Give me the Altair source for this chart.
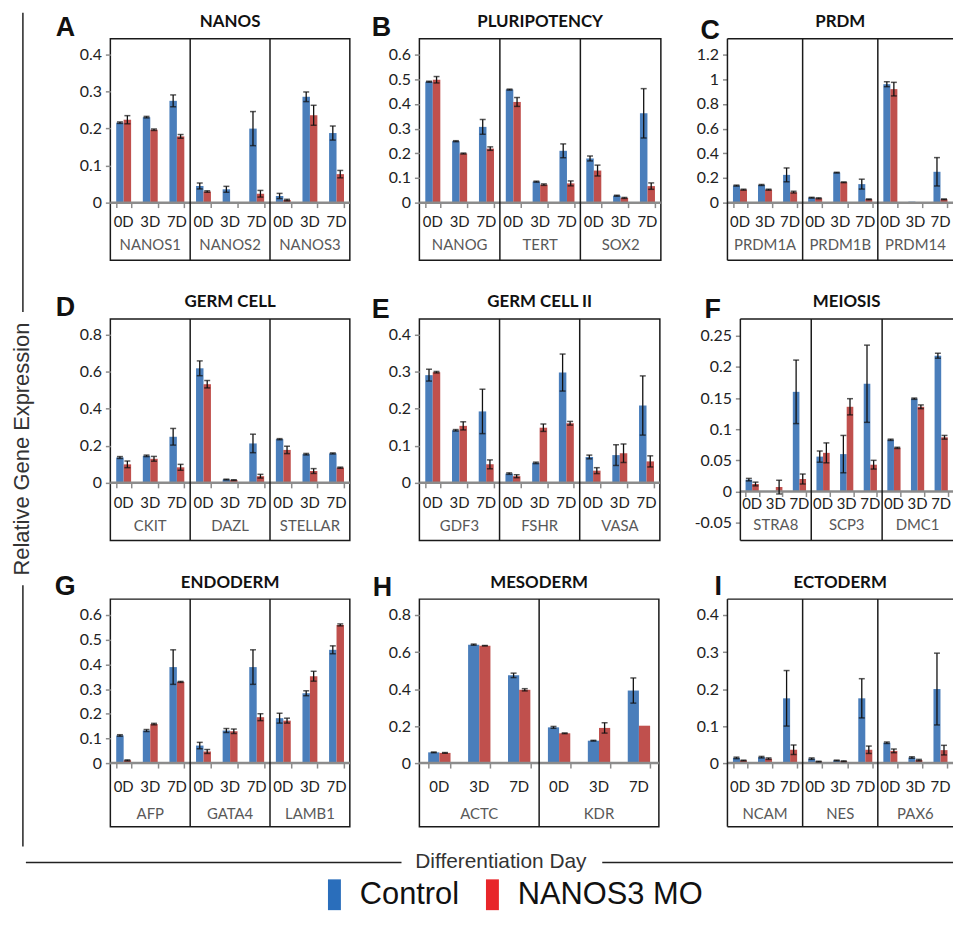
import altair as alt
import pandas as pd

SERIES = ["Control", "NANOS3 MO"]
DAYS = ["0D", "3D", "7D"]
BAR_COLORS = ["#4a7ebb", "#c0504d"]
LEGEND_COLORS = ["#2a6ebb", "#e8262a"]

# ---- Panel A: NANOS ----
A_GENES = ["NANOS1", "NANOS2", "NANOS3"]
A_TICKS = [0, 0.1, 0.2, 0.3, 0.4]
A_CONTROL = [0.216, 0.231, 0.275, 0.045, 0.036, 0.200, 0.018, 0.286, 0.188]
A_CONTROL_ERR = [0.002, 0.002, 0.016, 0.008, 0.008, 0.046, 0.007, 0.013, 0.019]
A_MO = [0.224, 0.197, 0.179, 0.030, 0.0, 0.024, 0.007, 0.236, 0.077]
A_MO_ERR = [0.011, 0.002, 0.005, 0.002, 0.0, 0.009, 0.002, 0.027, 0.010]

# ---- Panel B: PLURIPOTENCY ----
B_GENES = ["NANOG", "TERT", "SOX2"]
B_TICKS = [0, 0.1, 0.2, 0.3, 0.4, 0.5, 0.6]
B_CONTROL = [0.490, 0.249, 0.307, 0.458, 0.085, 0.210, 0.179, 0.028, 0.362]
B_CONTROL_ERR = [0.002, 0.002, 0.030, 0.002, 0.002, 0.028, 0.010, 0.002, 0.100]
B_MO = [0.498, 0.199, 0.219, 0.408, 0.073, 0.078, 0.130, 0.019, 0.067]
B_MO_ERR = [0.013, 0.002, 0.007, 0.018, 0.003, 0.010, 0.022, 0.002, 0.013]

# ---- Panel C: PRDM ----
C_GENES = ["PRDM1A", "PRDM1B", "PRDM14"]
C_TICKS = [0, 0.2, 0.4, 0.6, 0.8, 1, 1.2]
C_CONTROL = [0.138, 0.143, 0.225, 0.040, 0.243, 0.150, 0.960, 0.008, 0.250]
C_CONTROL_ERR = [0.004, 0.004, 0.056, 0.003, 0.003, 0.040, 0.020, 0.0, 0.115]
C_MO = [0.105, 0.105, 0.085, 0.035, 0.165, 0.027, 0.920, 0.0, 0.027]
C_MO_ERR = [0.004, 0.004, 0.007, 0.004, 0.003, 0.003, 0.055, 0.0, 0.003]

# ---- Panel D: GERM CELL ----
D_GENES = ["CKIT", "DAZL", "STELLAR"]
D_TICKS = [0, 0.2, 0.4, 0.6, 0.8]
D_CONTROL = [0.137, 0.146, 0.249, 0.619, 0.018, 0.213, 0.236, 0.155, 0.159]
D_CONTROL_ERR = [0.005, 0.004, 0.045, 0.040, 0.002, 0.050, 0.003, 0.004, 0.003]
D_MO = [0.100, 0.130, 0.084, 0.533, 0.015, 0.036, 0.178, 0.064, 0.082]
D_MO_ERR = [0.018, 0.013, 0.016, 0.020, 0.002, 0.010, 0.020, 0.013, 0.003]

# ---- Panel E: GERM CELL II ----
E_GENES = ["GDF3", "FSHR", "VASA"]
E_TICKS = [0, 0.1, 0.2, 0.3, 0.4]
E_CONTROL = [0.291, 0.142, 0.193, 0.025, 0.054, 0.298, 0.070, 0.075, 0.209]
E_CONTROL_ERR = [0.016, 0.002, 0.060, 0.002, 0.002, 0.050, 0.005, 0.028, 0.080]
E_MO = [0.299, 0.154, 0.050, 0.018, 0.149, 0.161, 0.033, 0.080, 0.058]
E_MO_ERR = [0.002, 0.011, 0.012, 0.004, 0.010, 0.005, 0.008, 0.025, 0.015]

# ---- Panel F: MEIOSIS ----
F_GENES = ["STRA8", "SCP3", "DMC1"]
F_TICKS = [-0.05, 0, 0.05, 0.1, 0.15, 0.2, 0.25]
F_CONTROL = [0.019, 0.0, 0.160, 0.056, 0.060, 0.173, 0.083, 0.149, 0.218]
F_CONTROL_ERR = [0.002, 0.0, 0.051, 0.009, 0.030, 0.062, 0.001, 0.001, 0.004]
F_MO = [0.012, 0.007, 0.020, 0.062, 0.136, 0.043, 0.070, 0.136, 0.087]
F_MO_ERR = [0.003, 0.011, 0.008, 0.016, 0.013, 0.007, 0.001, 0.003, 0.003]

# ---- Panel G: ENDODERM ----
G_GENES = ["AFP", "GATA4", "LAMB1"]
G_TICKS = [0, 0.1, 0.2, 0.3, 0.4, 0.5, 0.6]
G_CONTROL = [0.112, 0.132, 0.389, 0.071, 0.132, 0.389, 0.182, 0.283, 0.459]
G_CONTROL_ERR = [0.003, 0.004, 0.070, 0.013, 0.008, 0.070, 0.020, 0.010, 0.016]
G_MO = [0.011, 0.158, 0.329, 0.047, 0.129, 0.186, 0.172, 0.352, 0.560]
G_MO_ERR = [0.002, 0.003, 0.002, 0.008, 0.009, 0.014, 0.010, 0.020, 0.004]

# ---- Panel H: MESODERM ----
H_GENES = ["ACTC", "KDR"]
H_TICKS = [0, 0.2, 0.4, 0.6, 0.8]
H_CONTROL = [0.058, 0.640, 0.474, 0.193, 0.121, 0.392]
H_CONTROL_ERR = [0.002, 0.003, 0.012, 0.005, 0.002, 0.068]
H_MO = [0.055, 0.634, 0.396, 0.161, 0.190, 0.202]
H_MO_ERR = [0.002, 0.002, 0.006, 0.002, 0.028, 0.0]

# ---- Panel I: ECTODERM ----
I_GENES = ["NCAM", "NES", "PAX6"]
I_TICKS = [0, 0.1, 0.2, 0.3, 0.4]
I_CONTROL = [0.014, 0.016, 0.175, 0.012, 0.007, 0.175, 0.055, 0.015, 0.200]
I_CONTROL_ERR = [0.002, 0.002, 0.075, 0.002, 0.001, 0.053, 0.002, 0.002, 0.097]
I_MO = [0.007, 0.012, 0.036, 0.004, 0.005, 0.036, 0.033, 0.008, 0.035]
I_MO_ERR = [0.001, 0.002, 0.013, 0.001, 0.001, 0.010, 0.005, 0.002, 0.013]

Y_TITLE = "Relative Gene Expression"
X_TITLE = "Differentiation Day"

FONT = "Lato"
SANS = "Liberation Sans"
FRAME = "#1a1a1a"
PI = 0.44  # band inner padding

# layout geometry (pixels)
ROW12 = dict(H=223, top_px=16, bot_px=165, day_y=185, name_y=208, title_y=-12)
ROW3 = dict(H=229, top_px=16, bot_px=165, day_y=189, name_y=216, title_y=-11)
GEOM_F = dict(H=223, top_px=17, bot_px=205, day_y=186, name_y=207, title_y=-12)

one = pd.DataFrame({"k": [0]})


def build_df(genes, ctrl, ctrl_err, mo, mo_err):
    rows = []
    for gi, g in enumerate(genes):
        for di, d in enumerate(DAYS):
            k = gi * 3 + di
            for s, v, e in ((SERIES[0], ctrl[k], ctrl_err[k]), (SERIES[1], mo[k], mo_err[k])):
                rows.append(dict(key=g + "|" + d, gene=g, day=d, series=s, value=v, err=e, lo=v - e, hi=v + e))
    return pd.DataFrame(rows)


def panel(letter, title, genes, ctrl, ctrl_err, mo, mo_err, ticks, geom, gene_w, letter_pos,
          open_right=False, shift=0):
    H = geom["H"]
    n = len(genes)
    full_w = gene_w * n
    vw = shift + full_w
    step = full_w / (3 * n)
    keys = [g + "|" + d for g in genes for d in DAYS]
    df = build_df(genes, ctrl, ctrl_err, mo, mo_err)
    edf = df[df.err > 0]

    tmin, tmax = ticks[0], ticks[-1]
    ppu = (geom["bot_px"] - geom["top_px"]) / (tmax - tmin)
    dom = [tmin - (H - geom["bot_px"]) / ppu, tmax + geom["top_px"] / ppu]
    zero_px = geom["top_px"] + tmax * ppu

    xscale = alt.Scale(domain=keys, paddingInner=PI, paddingOuter=PI / 2, range=[shift, shift + full_w])
    yscale = alt.Scale(domain=dom, nice=False, zero=False)
    xoff = alt.XOffset("series:N", scale=alt.Scale(domain=SERIES, paddingInner=0, paddingOuter=0))

    xaxis = alt.Axis(labels=False, domain=False, ticks=True, tickBand="extent", tickSize=5,
                     tickColor="#8c8c8c", tickWidth=1.5, offset=-(H - zero_px), title=None, grid=False)
    yaxis = alt.Axis(values=ticks, labelExpr="datum.value + ''", domain=False, grid=False, tickSize=5,
                     tickColor="#8c8c8c", tickWidth=1.5, labelFont=FONT, labelFontSize=16,
                     labelColor="#222222", labelPadding=4, title=None, offset=-shift)

    def X(**kw):
        return alt.X("key:N", scale=xscale, axis=xaxis, title=None, **kw)

    def Y(field):
        return alt.Y(field, scale=yscale, axis=yaxis, title=None)

    bars = alt.Chart(df).mark_bar().encode(
        x=X(), xOffset=xoff, y=Y("value:Q"), y2=alt.datum(0),
        color=alt.Color("series:N", scale=alt.Scale(domain=SERIES, range=BAR_COLORS), legend=None),
    )
    zero = alt.Chart(one).transform_calculate(z="0").mark_rule(color="#8c8c8c", strokeWidth=2.5).encode(
        y=Y("z:Q"), x=alt.value(shift), x2=alt.value(vw)
    )
    err_rule = alt.Chart(edf).mark_rule(color="#111111", strokeWidth=1.3).encode(
        x=X(), xOffset=xoff, y=Y("lo:Q"), y2="hi:Q")
    cap_hi = alt.Chart(edf).mark_tick(color="#111111", thickness=1.5, size=6, orient="horizontal").encode(
        x=X(), xOffset=xoff, y=Y("hi:Q"))
    cap_lo = alt.Chart(edf).mark_tick(color="#111111", thickness=1.5, size=6, orient="horizontal").encode(
        x=X(), xOffset=xoff, y=Y("lo:Q"))

    day_df = pd.DataFrame({"key": keys, "day": DAYS * n})
    day_text = alt.Chart(day_df).mark_text(
        font=FONT, fontSize=15, color="#222222", baseline="middle"
    ).encode(x=X(), y=alt.value(geom["day_y"]), text="day:N")
    gene_df = pd.DataFrame({"key": [g + "|" + DAYS[1] for g in genes], "gene": genes})
    name_text = alt.Chart(gene_df).mark_text(
        font=FONT, fontSize=15, color="#595959", baseline="middle"
    ).encode(x=X(), y=alt.value(geom["name_y"]), text="gene:N")
    sep_df = pd.DataFrame({"key": [g + "|" + DAYS[0] for g in genes[1:]]})
    seps = alt.Chart(sep_df).mark_rule(color=FRAME, strokeWidth=1.5, xOffset=-step * PI / 2).encode(
        x=X(bandPosition=0), y=alt.value(0), y2=alt.value(H))

    layers = [bars, zero, err_rule, cap_hi, cap_lo, day_text, name_text, seps]
    if open_right:
        layers.append(alt.Chart(one).mark_rule(color=FRAME, strokeWidth=1.5).encode(
            x=alt.value(shift), y=alt.value(0), y2=alt.value(H)))
        layers.append(alt.Chart(one).mark_rule(color=FRAME, strokeWidth=1.5).encode(
            x=alt.value(shift), x2=alt.value(vw), y=alt.value(0)))
        layers.append(alt.Chart(one).mark_rule(color=FRAME, strokeWidth=1.5).encode(
            x=alt.value(shift), x2=alt.value(vw), y=alt.value(H)))
    layers.append(alt.Chart(pd.DataFrame({"letter": [letter]})).mark_text(
        font=SANS, fontSize=27, fontWeight="bold", color="#111111", align="left", baseline="alphabetic"
    ).encode(x=alt.value(shift + letter_pos[0]), y=alt.value(letter_pos[1]), text="letter:N"))
    layers.append(alt.Chart(pd.DataFrame({"title": [title]})).mark_text(
        font=FONT, fontSize=17, fontWeight="bold", color="#111111", align="center", baseline="alphabetic"
    ).encode(x=alt.value(shift + full_w / 2), y=alt.value(geom["title_y"]), text="title:N"))

    props = dict(width=vw, height=H)
    if open_right:
        props["view"] = alt.ViewBackground(stroke="transparent")
    return alt.layer(*layers).properties(**props)


def spacer(w, h):
    return alt.Chart(one).mark_point(opacity=0, size=1).encode(x=alt.value(w / 2), y=alt.value(h / 2)).properties(
        width=w, height=h, view=alt.ViewBackground(stroke="transparent"))


pA = panel("A", "NANOS", A_GENES, A_CONTROL, A_CONTROL_ERR, A_MO, A_MO_ERR, A_TICKS, ROW12, 241 / 3, (-55, -3))
pB = panel("B", "PLURIPOTENCY", B_GENES, B_CONTROL, B_CONTROL_ERR, B_MO, B_MO_ERR, B_TICKS, ROW12, 81, (-48, -3))
pC = panel("C", "PRDM", C_GENES, C_CONTROL, C_CONTROL_ERR, C_MO, C_MO_ERR, C_TICKS, ROW12, 227 / 3, (-27, 0),
           open_right=True)
pD = panel("D", "GERM CELL", D_GENES, D_CONTROL, D_CONTROL_ERR, D_MO, D_MO_ERR, D_TICKS, ROW12, 241 / 3, (-55, -3))
pE = panel("E", "GERM CELL II", E_GENES, E_CONTROL, E_CONTROL_ERR, E_MO, E_MO_ERR, E_TICKS, ROW12, 242 / 3, (-48, -1))
pF = panel("F", "MEIOSIS", F_GENES, F_CONTROL, F_CONTROL_ERR, F_MO, F_MO_ERR, F_TICKS, GEOM_F, 214 / 3, (-36, -1),
           open_right=True, shift=13)
pG = panel("G", "ENDODERM", G_GENES, G_CONTROL, G_CONTROL_ERR, G_MO, G_MO_ERR, G_TICKS, ROW3, 241 / 3, (-56, -4))
pH = panel("H", "MESODERM", H_GENES, H_CONTROL, H_CONTROL_ERR, H_MO, H_MO_ERR, H_TICKS, ROW3, 120.5, (-47, -3))
pI = panel("I", "ECTODERM", I_GENES, I_CONTROL, I_CONTROL_ERR, I_MO, I_MO_ERR, I_TICKS, ROW3, 227 / 3, (-13, -4),
           open_right=True)

# row-1 left cell: vertical axis title and its lines (drawn beyond the cell)
left = alt.layer(
    alt.Chart(pd.DataFrame({"label": [Y_TITLE]})).mark_text(
        angle=270, font=SANS, fontSize=22, color="#333333", baseline="middle", align="center"
    ).encode(text="label:N", x=alt.value(13), y=alt.value(413)),
    alt.Chart(one).mark_rule(color="#222222", strokeWidth=1.5).encode(x=alt.value(14), y=alt.value(-26), y2=alt.value(275)),
    alt.Chart(one).mark_rule(color="#222222", strokeWidth=1.5).encode(x=alt.value(14), y=alt.value(550), y2=alt.value(813)),
).properties(width=102, height=223, view=alt.ViewBackground(stroke="transparent"))

# row-3 left cell: horizontal axis title and legend (drawn below the cell)
legend_marks = alt.Chart(pd.DataFrame({"series": SERIES})).mark_point(opacity=0, filled=True, size=1).encode(
    x=alt.value(50), y=alt.value(50),
    fill=alt.Fill("series:N", scale=alt.Scale(domain=SERIES, range=LEGEND_COLORS),
                  legend=alt.Legend(orient="none", legendX=312, legendY=282, direction="horizontal", title=None,
                                    symbolType="M-0.42,-1L0.42,-1L0.42,1L-0.42,1Z",
                                    symbolSize=961, symbolStrokeWidth=0, symbolOpacity=1,
                                    labelFont=SANS, labelFontSize=31, labelColor="#111111",
                                    labelOffset=10, columnPadding=18, padding=0, labelLimit=0)),
)
bottom = alt.layer(
    alt.Chart(pd.DataFrame({"t": [X_TITLE]})).mark_text(
        font=SANS, fontSize=21, color="#333333", baseline="middle", align="center"
    ).encode(text="t:N", x=alt.value(495), y=alt.value(265)),
    alt.Chart(one).mark_rule(color="#222222", strokeWidth=1.5).encode(x=alt.value(17), x2=alt.value(395), y=alt.value(265)),
    alt.Chart(one).mark_rule(color="#222222", strokeWidth=1.5).encode(x=alt.value(597), x2=alt.value(950), y=alt.value(265)),
    legend_marks,
).properties(width=102, height=229, view=alt.ViewBackground(stroke="transparent"))

cells = [
    left, pA, spacer(70, 223), pB, spacer(67, 223), pC,
    spacer(102, 223), pD, spacer(70, 223), pE, spacer(67, 223), pF,
    bottom, pG, spacer(70, 229), pH, spacer(67, 229), pI,
]

chart = alt.concat(
    *cells, columns=6, spacing={"row": 59, "column": 0}, bounds="flush"
).resolve_scale(
    x="independent", y="independent", xOffset="independent"
).resolve_legend(fill="independent").properties(padding=0).configure_view(stroke=FRAME, strokeWidth=1.5)

chart.save("out.html", embed_options={"renderer": "svg", "actions": False})
